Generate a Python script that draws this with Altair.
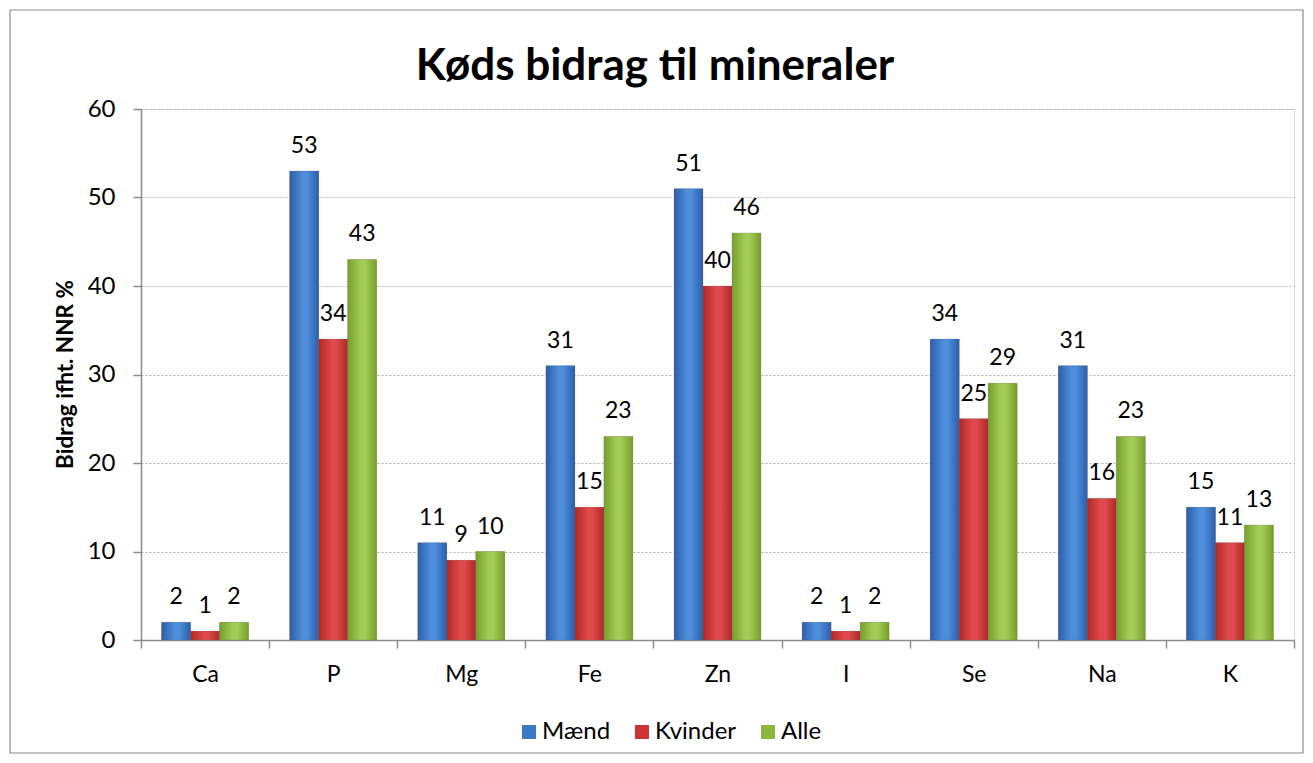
import altair as alt
import pandas as pd

categories = ["Ca", "P", "Mg", "Fe", "Zn", "I", "Se", "Na", "K"]
series = ["Mænd", "Kvinder", "Alle"]
maend = [2, 53, 11, 31, 51, 2, 34, 31, 15]
kvinder = [1, 34, 9, 15, 40, 1, 25, 16, 11]
alle = [2, 43, 10, 23, 46, 2, 29, 23, 13]
colors = ["#3A78C8", "#CF3434", "#8DB83F"]
gradients = [
    ("#2C5EA8", "#4E8EDC"),
    ("#AF2828", "#E04A4A"),
    ("#779F2E", "#A2CC55"),
]
title_text = "Køds bidrag til mineraler"

rows = []
for i, c in enumerate(categories):
    for s, vals in zip(series, [maend, kvinder, alle]):
        rows.append({"cat": c, "serie": s, "val": vals[i]})
df = pd.DataFrame(rows)

FONT = "Lato"
FS = 23

x = alt.X("cat:N", sort=categories, title=None,
          scale=alt.Scale(paddingInner=0, paddingOuter=0),
          axis=alt.Axis(labelAngle=0, labelFontSize=FS, labelColor="#000000",
                        labelFont=FONT, tickBand="extent", tickSize=8, tickWidth=1.5,
                        tickColor="#8C8C8C", domainColor="#8C8C8C", domainWidth=1.5,
                        labelPadding=15, grid=False))
xo = alt.XOffset("serie:N", sort=series,
                 scale=alt.Scale(domain=series, paddingOuter=0.71, paddingInner=0))
y = alt.Y("val:Q", title="Bidrag ifht. NNR %",
          scale=alt.Scale(domain=[0, 60], nice=False),
          axis=alt.Axis(values=[0, 10, 20, 30, 40, 50, 60], labelFontSize=FS + 1,
                        labelFont=FONT, labelColor="#000000", titleFont=FONT,
                        titleFontSize=22.5, titleFontWeight="bold", titleColor="#000000",
                        titleX=-76, titleY=265, titleAngle=-90, titleAlign="center",
                        titleBaseline="middle",
                        tickSize=8, tickWidth=1.5, tickColor="#8C8C8C",
                        domainColor="#8C8C8C", domainWidth=1.5,
                        labelPadding=18,
                        grid=True, gridColor="#9A9A9A", gridDash=[2, 2], gridWidth=0.8))

base = alt.Chart(df).encode(x=x, xOffset=xo, y=y)

bars = base.mark_bar().encode(
    color=alt.Color("serie:N", sort=series,
                    scale=alt.Scale(domain=series, range=colors),
                    legend=alt.Legend(title=None, orient="none", direction="horizontal",
                                      legendX=376, legendY=611, symbolType="square",
                                      symbolSize=196, symbolStrokeWidth=0,
                                      labelFontSize=FS + 1, labelFont=FONT,
                                      labelColor="#000000", columnPadding=19,
                                      labelOffset=1))
)

grad_layers = []
for s, (dark, light) in zip(series, gradients):
    g = alt.Gradient(gradient="linear", x1=0, x2=1, y1=0, y2=0,
                     stops=[alt.GradientStop(color=dark, offset=0),
                            alt.GradientStop(color=light, offset=0.45),
                            alt.GradientStop(color=light, offset=0.6),
                            alt.GradientStop(color=dark, offset=1)])
    grad_layers.append(
        base.transform_filter(alt.datum.serie == s).mark_bar(
            fill=g, stroke="#666666", strokeWidth=0.6, strokeOpacity=0.35)
    )

labels = base.mark_text(baseline="bottom", dy=-13, fontSize=FS, font=FONT,
                        color="#000000").encode(text="val:Q")

one = pd.DataFrame({"t": [title_text]})
border = alt.Chart(one).mark_rect(
    fill=None, stroke="#8C8C8C", strokeWidth=1.2).encode(
    x=alt.value(-131), x2=alt.value(1162), y=alt.value(-99), y2=alt.value(644))

title = alt.Chart(one).mark_text(
    fontSize=44, font=FONT, fontWeight="bold", color="#000000",
    align="center", baseline="alphabetic").encode(
    text="t:N", x=alt.value(514), y=alt.value(-29))

chart = alt.layer(border, bars, *grad_layers, labels, title).properties(
    width=1153, height=531,
    autosize=alt.AutoSizeParams(type="none"),
    padding={"left": 133, "top": 101, "right": 11, "bottom": 115},
).configure_view(stroke=None).configure(background="white")

chart.save("out.html", embed_options={"renderer": "svg", "actions": False})
